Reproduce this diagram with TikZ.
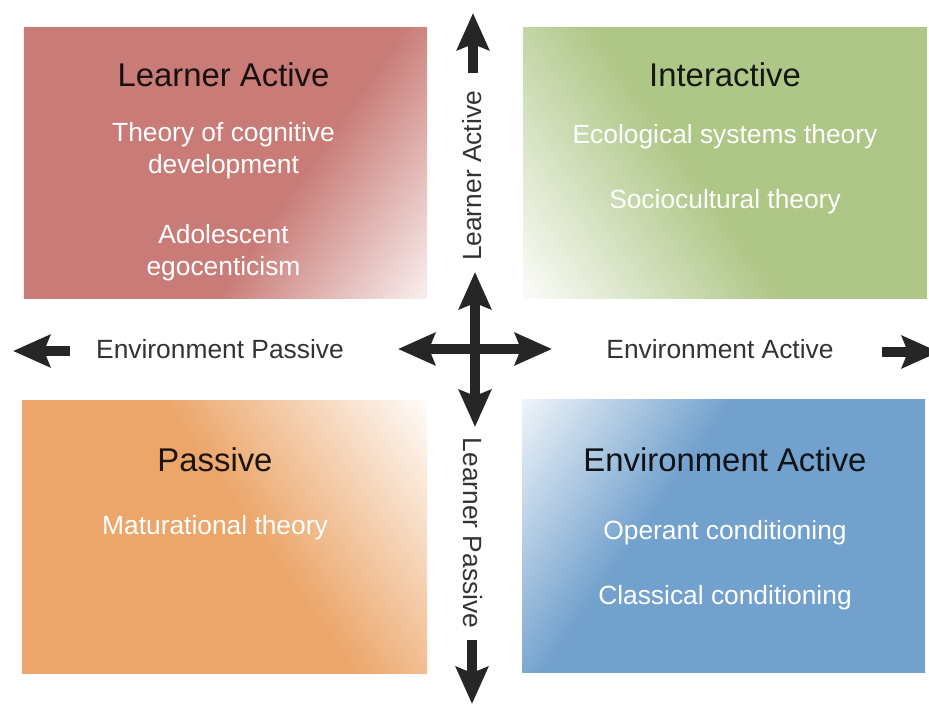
\documentclass[tikz,border=0pt]{standalone}
\usepackage{fontspec}
\setmainfont{Liberation Sans}
\usetikzlibrary{arrows.meta}

\definecolor{redq}{RGB}{201,124,119}
\definecolor{greenq}{RGB}{174,198,134}
\definecolor{orangeq}{RGB}{236,166,106}
\definecolor{blueq}{RGB}{114,161,205}

\pgfdeclarehorizontalshading{redfade}{100bp}{color(0bp)=(redq); color(60bp)=(redq); color(88bp)=(white); color(100bp)=(white)}
\pgfdeclarehorizontalshading{greenfade}{100bp}{color(0bp)=(greenq); color(54bp)=(greenq); color(86bp)=(white); color(100bp)=(white)}
\pgfdeclarehorizontalshading{orangefade}{100bp}{color(0bp)=(orangeq); color(54bp)=(orangeq); color(86bp)=(white); color(100bp)=(white)}
\pgfdeclarehorizontalshading{bluefade}{100bp}{color(0bp)=(blueq); color(60bp)=(blueq); color(88bp)=(white); color(100bp)=(white)}

\begin{document}
\begin{tikzpicture}[
    quadtitle/.style={font=\fontsize{18.7}{22}\selectfont, align=center},
    theory/.style={font=\fontsize{15}{18.2}\selectfont, text=white, align=center},
    axislabel/.style={font=\fontsize{15}{18}\selectfont, text=black!80},
    bigarrow/.style={line width=0.2cm, draw=black!85,
        >={Stealth[length=0.74cm, width=0.64cm, inset=0.12cm]}}
]
    \clip (0,0) rectangle (18.58,14.12);

    % Quadrants
    \shade[shading=redfade, shading angle=-35] (0.48,8.14) rectangle (8.54,13.56);
    \shade[shading=greenfade, shading angle=215] (10.46,8.14) rectangle (18.54,13.56);
    \shade[shading=orangefade, shading angle=35] (0.44,0.64) rectangle (8.54,6.10);
    \shade[shading=bluefade, shading angle=145] (10.44,0.66) rectangle (18.50,6.12);

    % Learner active quadrant
    \node[quadtitle, text=black!88!redq] (lacttitle) at (4.47,12.62) {Learner Active};
    \node[theory] (cognitive) at (4.47,11.10) {Theory of cognitive\\development};
    \node[theory] (egocent) at (4.47,9.07) {Adolescent\\egocenticism};

    % Interactive quadrant
    \node[quadtitle, text=black!88!greenq] (intertitle) at (14.50,12.62) {Interactive};
    \node[theory] (ecolog) at (14.50,11.38) {Ecological systems theory};
    \node[theory] (sociocult) at (14.50,10.08) {Sociocultural theory};

    % Passive quadrant
    \node[quadtitle, text=black!88!orangeq] (passtitle) at (4.30,4.92) {Passive};
    \node[theory] (matur) at (4.30,3.56) {Maturational theory};

    % Environment active quadrant
    \node[quadtitle, text=black!88!blueq] (envtitle) at (14.50,4.92) {Environment Active};
    \node[theory] (operant) at (14.50,3.46) {Operant conditioning};
    \node[theory] (classical) at (14.50,2.16) {Classical conditioning};

    % Axis labels
    \node[axislabel] (envpass) at (4.40,7.14) {Environment Passive};
    \node[axislabel] (envact) at (14.40,7.14) {Environment Active};
    \node[axislabel, rotate=90] (lrnact) at (9.44,10.60) {Learner Active};
    \node[axislabel, rotate=-90] (lrnpass) at (9.46,3.46) {Learner Passive};

    % Arrow ends
    \coordinate (hubN) at (9.50,8.68);
    \coordinate (hubS) at (9.50,5.58);
    \coordinate (hubW) at (7.96,7.14);
    \coordinate (hubE) at (11.04,7.14);
    \coordinate (leftTail) at (1.40,7.10);
    \coordinate (leftTip) at (0.26,7.10);
    \coordinate (rightTail) at (17.64,7.08);
    \coordinate (rightTip) at (18.78,7.08);
    \coordinate (topTail) at (9.46,12.66);
    \coordinate (topTip) at (9.46,13.86);
    \coordinate (botTail) at (9.44,1.32);
    \coordinate (botTip) at (9.44,0.04);

    % Arrows
    \draw[bigarrow, <->] (hubW) -- (hubE);
    \draw[bigarrow, <->] (hubS) -- (hubN);
    \draw[bigarrow, ->] (leftTail) -- (leftTip);
    \draw[bigarrow, ->] (rightTail) -- (rightTip);
    \draw[bigarrow, ->] (topTail) -- (topTip);
    \draw[bigarrow, ->] (botTail) -- (botTip);
\end{tikzpicture}
\end{document}
